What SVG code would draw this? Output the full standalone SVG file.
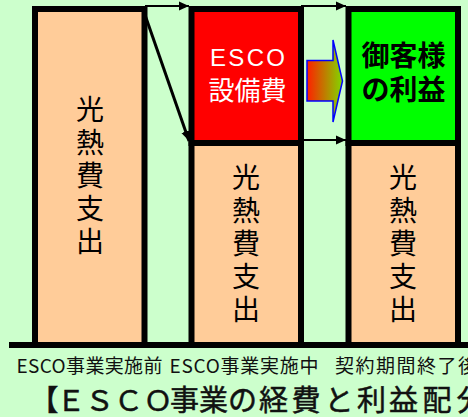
<svg xmlns="http://www.w3.org/2000/svg" width="468" height="417" viewBox="0 0 468 417">
<defs>
<style>
.box{stroke:#000;stroke-width:6}
.peach{fill:#FFCC99}
.v{font-family:"Noto Sans CJK JP",sans-serif;font-size:28px;fill:#000;text-anchor:middle}
.cap{font-family:"Noto Sans CJK JP",sans-serif;font-size:19px;fill:#111;text-anchor:middle}
.title{font-family:"Noto Sans CJK JP",sans-serif;font-size:29px;fill:#111;stroke:#111;stroke-width:0.5;text-anchor:middle}
.conn{stroke:#000;fill:none}
</style>
<marker id="ah" viewBox="0 0 10 10" refX="10" refY="5" markerWidth="10" markerHeight="10" markerUnits="userSpaceOnUse" orient="auto"><path d="M0,0.5L10,5L0,9.5z" fill="#000"/></marker>
<linearGradient id="grad" x1="0" y1="0" x2="1" y2="0"><stop offset="0" stop-color="#FF2000"/><stop offset="1" stop-color="#80D800"/></linearGradient>
</defs>
<rect width="468" height="417" fill="#CCFFCC"/>
<g id="before">
<rect class="box peach" x="35" y="9" width="109.5" height="336"/>
<text class="v"><tspan x="90" y="120">光</tspan><tspan x="90" y="153">熱</tspan><tspan x="90" y="186">費</tspan><tspan x="90" y="219">支</tspan><tspan x="90" y="252">出</tspan></text>
</g>
<g id="during">
<rect class="box" x="191.5" y="9" width="109.5" height="134" fill="#FF0000"/>
<rect class="box peach" x="191.5" y="143" width="109.5" height="202"/>
<text font-family="'Liberation Sans','Noto Sans CJK JP',sans-serif" fill="#FFFFFF" text-anchor="middle"><tspan x="247.5" y="66" font-size="24" textLength="75">ESCO</tspan><tspan x="247.5" y="100" font-size="26">設備費</tspan></text>
<text class="v"><tspan x="246" y="188">光</tspan><tspan x="246" y="221">熱</tspan><tspan x="246" y="254">費</tspan><tspan x="246" y="287">支</tspan><tspan x="246" y="320">出</tspan></text>
</g>
<g id="after">
<rect class="box" x="348.5" y="9" width="109.5" height="134" fill="#00FF00"/>
<rect class="box peach" x="348.5" y="143" width="109.5" height="202"/>
<text font-family="'Noto Sans CJK JP',sans-serif" font-weight="bold" font-size="28" fill="#000" text-anchor="middle"><tspan x="403.5" y="66">御客様</tspan><tspan x="403.5" y="100">の利益</tspan></text>
<text class="v"><tspan x="403" y="188">光</tspan><tspan x="403" y="221">熱</tspan><tspan x="403" y="254">費</tspan><tspan x="403" y="287">支</tspan><tspan x="403" y="320">出</tspan></text>
</g>
<g id="axis">
<line x1="9" y1="345" x2="468" y2="345" stroke="#000" stroke-width="6"/>
</g>
<g id="connectors">
<line class="conn" x1="145" y1="6" x2="189" y2="6" stroke-width="2" marker-end="url(#ah)"/>
<line class="conn" x1="144" y1="12" x2="189" y2="141" stroke-width="3" marker-end="url(#ah)"/>
<line class="conn" x1="301" y1="6" x2="346" y2="6" stroke-width="2" marker-end="url(#ah)"/>
<line class="conn" x1="301" y1="140" x2="346" y2="140" stroke-width="2" marker-end="url(#ah)"/>
<polygon points="307,60.5 333,60.5 333,40 342.5,81 333,122 333,101 307,101" fill="url(#grad)" stroke="#0000FF" stroke-width="1.5"/>
</g>
<g id="labels">
<text class="cap" x="89.5" y="373" textLength="146" lengthAdjust="spacing">ESCO事業実施前</text>
<text class="cap" x="244" y="373" textLength="149" lengthAdjust="spacing">ESCO事業実施中</text>
<text class="cap" x="406" y="373" textLength="142" lengthAdjust="spacing">契約期間終了後</text>
<text class="title" x="44 71 99.5 128.5 158 184.5 213.5 242.5 273.5 306 339 371.5 403.5 437 471" y="411">【ＥＳＣＯ事業の経費と利益配分</text>
</g>
</svg>
